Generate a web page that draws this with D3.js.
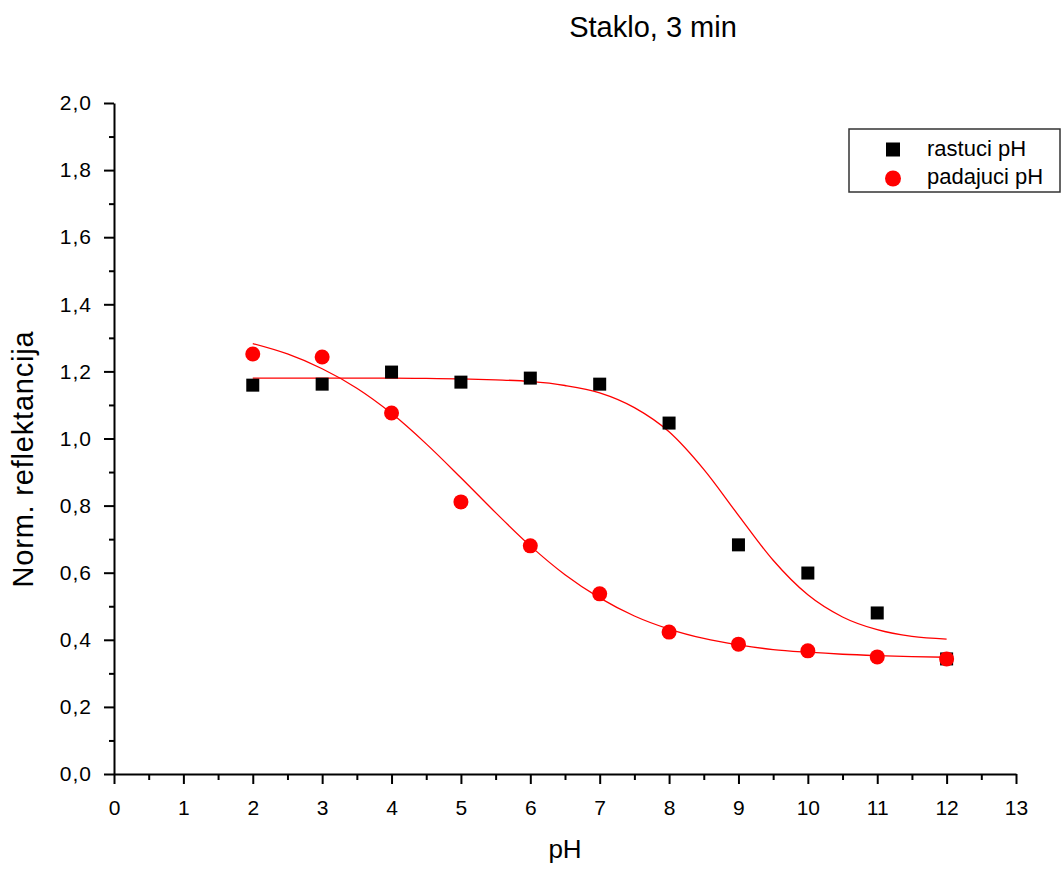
<!DOCTYPE html>
<html><head><meta charset="utf-8">
<script src="https://cdn.jsdelivr.net/npm/d3@7"></script>
<style>body{margin:0;background:#fff;} text{font-family:"Liberation Sans",Arial,sans-serif;}</style>
</head><body>
<svg id="chart" width="1063" height="873"></svg>
<script>
const title = "Staklo, 3 min";
const xLabel = "pH";
const yLabel = "Norm. reflektancija";
const seriesNames = ["rastuci pH", "padajuci pH"];
const pH = [2, 3, 4, 5, 6, 7, 8, 9, 10, 11, 12];
const rastuci = [1.159, 1.162, 1.198, 1.168, 1.180, 1.162, 1.046, 0.683, 0.599, 0.480, 0.343];
const padajuci = [1.252, 1.243, 1.076, 0.811, 0.680, 0.537, 0.423, 0.387, 0.367, 0.349, 0.343];
// fit curves
const fitX = [2, 2.5, 3, 3.5, 4, 4.5, 5, 5.5, 6, 6.5, 7, 7.5, 8, 8.5, 9, 9.5, 10, 10.5, 11, 11.5, 12];
const fitRastuci = [1.180, 1.180, 1.180, 1.180, 1.180, 1.179, 1.178, 1.175, 1.170, 1.158, 1.136, 1.092, 1.020, 0.908, 0.771, 0.637, 0.534, 0.468, 0.430, 0.410, 0.402];
const fitPadajuci = [1.283, 1.252, 1.208, 1.150, 1.075, 0.984, 0.883, 0.779, 0.680, 0.594, 0.525, 0.471, 0.432, 0.404, 0.385, 0.371, 0.363, 0.357, 0.353, 0.350, 0.348];
const xTicks = d3.range(0, 14, 1);
const yTicks = [0, 0.2, 0.4, 0.6, 0.8, 1.0, 1.2, 1.4, 1.6, 1.8, 2.0];

const svg = d3.select("#chart");
const L = 114, R = 1016, T = 103, B = 774;
const x = d3.scaleLinear().domain([0, 13]).range([L, R]);
const y = d3.scaleLinear().domain([0, 2]).range([B, T]);
const fmt = d => d3.format(".1f")(d).replace(".", ",");

// minor ticks
const gx = svg.append("g").attr("transform", `translate(0,${B})`);
gx.call(d3.axisBottom(x).tickValues(d3.range(0.5, 13, 1)).tickSize(6).tickFormat(""));
gx.call(g => g.select(".domain").remove());
const gxM = svg.append("g").attr("transform", `translate(0,${B})`)
  .call(d3.axisBottom(x).tickValues(xTicks).tickSize(10).tickSizeOuter(0).tickPadding(16).tickFormat(d3.format("d")));
const gy = svg.append("g").attr("transform", `translate(${L},0)`);
gy.call(d3.axisLeft(y).tickValues(d3.range(0.1, 2, 0.2)).tickSize(5).tickFormat(""));
gy.call(g => g.select(".domain").remove());
const gyM = svg.append("g").attr("transform", `translate(${L},0)`)
  .call(d3.axisLeft(y).tickValues(yTicks).tickSize(10).tickSizeOuter(0).tickPadding(12).tickFormat(fmt));
svg.selectAll(".tick line").attr("stroke", "#000").attr("stroke-width", 2);
svg.selectAll(".domain").attr("stroke", "#000").attr("stroke-width", 2);
svg.selectAll(".tick text").attr("font-size", 21).attr("fill", "#000").attr("font-family", "Liberation Sans, Arial, sans-serif");
gyM.selectAll(".tick text").attr("letter-spacing", 1);

// fit lines
const line = d3.line().x((d, i) => x(fitX[i])).y(d => y(d)).curve(d3.curveMonotoneX);
[fitRastuci, fitPadajuci].forEach(s => {
  svg.append("path").attr("d", line(s)).attr("fill", "none").attr("stroke", "#ff0000").attr("stroke-width", 1.3);
});

// markers
const sq = 13;
svg.append("g").selectAll("rect").data(rastuci).join("rect")
  .attr("x", (d, i) => x(pH[i]) - sq / 2).attr("y", d => y(d) - sq / 2)
  .attr("width", sq).attr("height", sq).attr("fill", "#000");
svg.append("g").selectAll("circle").data(padajuci).join("circle")
  .attr("cx", (d, i) => x(pH[i])).attr("cy", d => y(d)).attr("r", 7.5).attr("fill", "#ff0000");

// labels
svg.append("text").attr("x", 653).attr("y", 37).attr("text-anchor", "middle").attr("font-size", 29).text(title);
svg.append("text").attr("x", 565).attr("y", 858).attr("text-anchor", "middle").attr("font-size", 26).text(xLabel);
svg.append("text").attr("transform", "translate(33,459) rotate(-90)").attr("text-anchor", "middle")
  .attr("font-size", 29).attr("letter-spacing", 0.8).text(yLabel);

// legend
const lg = svg.append("g");
lg.append("rect").attr("x", 849).attr("y", 129).attr("width", 211).attr("height", 63)
  .attr("fill", "#fff").attr("stroke", "#333").attr("stroke-width", 1.5);
lg.append("rect").attr("x", 893 - 7).attr("y", 149.5 - 7).attr("width", 14).attr("height", 14).attr("fill", "#000");
lg.append("circle").attr("cx", 893).attr("cy", 178.5).attr("r", 8).attr("fill", "#ff0000");
lg.append("text").attr("x", 927).attr("y", 156).attr("font-size", 22).text(seriesNames[0]);
lg.append("text").attr("x", 927).attr("y", 184).attr("font-size", 22).text(seriesNames[1]);
</script>
</body></html>
